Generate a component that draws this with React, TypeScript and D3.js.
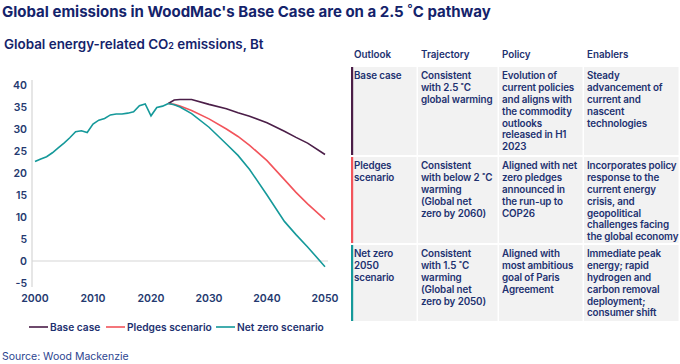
import React from 'react'
import * as d3 from 'd3'

const histYears = [2000, 2001, 2002, 2003, 2004, 2005, 2006, 2007, 2008, 2009, 2010, 2011, 2012, 2013, 2014, 2015, 2016, 2017, 2018, 2019, 2020, 2021, 2022, 2023]
const histValues = [22.6, 23.2, 23.7, 24.6, 25.7, 26.8, 28.0, 29.4, 29.6, 29.2, 31.1, 32.0, 32.4, 33.2, 33.4, 33.4, 33.6, 33.9, 35.3, 35.7, 33.0, 34.9, 35.2, 35.8]

const projYears = [2023, 2024, 2025, 2027, 2030, 2033, 2035, 2037, 2040, 2043, 2045, 2047, 2050]
const baseCase = [35.8, 36.6, 36.7, 36.7, 35.6, 34.6, 33.7, 32.9, 31.4, 29.5, 28.1, 26.8, 24.2]
const pledges = [35.8, 35.6, 35.2, 34.2, 32.3, 30.0, 28.3, 26.3, 22.8, 18.5, 15.6, 13.0, 9.4]
const netZero = [35.8, 35.5, 35.0, 33.5, 30.4, 26.6, 24.0, 20.8, 15.0, 9.0, 6.0, 3.2, -1.3]

const yTicks = [-5, 0, 5, 10, 15, 20, 25, 30, 35, 40]
const xTicks = [2000, 2010, 2020, 2030, 2040, 2050]

const seriesNames = ['Base case', 'Pledges scenario', 'Net zero scenario']
const seriesColors = ['#4b1e48', '#f2545b', '#15999a']

const tableHeaders = ['Outlook', 'Trajectory', 'Policy', 'Enablers']
const tableRows = [
  [['Base case'], ['Consistent', 'with 2.5 ˚C', 'global warming'], ['Evolution of', 'current policies', 'and aligns with', 'the commodity', 'outlooks', 'released in H1', '2023'], ['Steady', 'advancement of', 'current and', 'nascent', 'technologies']],
  [['Pledges', 'scenario'], ['Consistent', 'with below 2 ˚C', 'warming', '(Global net', 'zero by 2060)'], ['Aligned with net', 'zero pledges', 'announced in', 'the run-up to', 'COP26'], ['Incorporates policy', 'response to the', 'current energy', 'crisis, and', 'geopolitical', 'challenges facing', 'the global economy']],
  [['Net zero', '2050', 'scenario'], ['Consistent', 'with 1.5 ˚C', 'warming', '(Global net', 'zero by 2050)'], ['Aligned with', 'most ambitious', 'goal of Paris', 'Agreement'], ['Immediate peak', 'energy; rapid', 'hydrogen and', 'carbon removal', 'deployment;', 'consumer shift']],
]

const navy = '#14236b'
const textBlue = '#1d3170'
const font = 'Inter, "Noto Sans", sans-serif'

export default function App() {
  const x = d3.scaleLinear().domain([2000, 2050]).range([35, 325])
  const y = d3.scaleLinear().domain([-5, 40]).range([283, 85])
  const line = d3.line<number>()

  const histPts = histYears.map((yr, i) => [x(yr), y(histValues[i])] as [number, number])
  const proj = [baseCase, pledges, netZero].map(vals =>
    projYears.map((yr, i) => [x(yr), y(vals[i])] as [number, number]))

  // table geometry
  const colX = [351, 418, 499, 584, 680]
  const rowY = [67, 157, 245, 323]
  const lineH = 11.8

  return (
    <svg width={680} height={364} style={{ position: 'absolute', left: 0, top: 0, background: '#fff' }} fontFamily={font}>
      <text x={2} y={17} fontSize={15} fontWeight={700} fill={navy}>Global emissions in WoodMac's Base Case are on a 2.5 ˚C pathway</text>
      <text x={4} y={49} fontSize={13.4} fontWeight={600} fill={navy}>
        Global energy-related CO<tspan fontSize={9}>2</tspan> emissions, Bt
      </text>

      {/* axes */}
      <line x1={32} x2={32} y1={80} y2={287} stroke="#d6d6d6" strokeWidth={1.2} />
      <line x1={32} x2={328} y1={y(0)} y2={y(0)} stroke="#d6d6d6" strokeWidth={1.2} />
      {yTicks.map(t => (
        <text key={t} x={27} y={y(t)} dy="0.35em" textAnchor="end" fontSize={10.5} fontWeight={600} fill="#24396f">{t}</text>
      ))}
      {xTicks.map(t => (
        <text key={t} x={x(t)} y={298} dy="0.35em" textAnchor="middle" fontSize={10.5} fontWeight={600} fill="#24396f">{t}</text>
      ))}

      {/* lines */}
      <path d={line(proj[0]) ?? ''} fill="none" stroke={seriesColors[0]} strokeWidth={1.6} />
      <path d={line(proj[1]) ?? ''} fill="none" stroke={seriesColors[1]} strokeWidth={1.6} />
      <path d={line(proj[2]) ?? ''} fill="none" stroke={seriesColors[2]} strokeWidth={1.6} />
      <path d={line(histPts) ?? ''} fill="none" stroke={seriesColors[2]} strokeWidth={1.6} />

      {/* legend */}
      {seriesNames.map((n, i) => {
        const lx = [29, 106, 216][i]
        return (
          <g key={n}>
            <line x1={lx} x2={lx + 19} y1={327} y2={327} stroke={seriesColors[i]} strokeWidth={2} opacity={0.8} />
            <text x={lx + 21} y={327} dy="0.35em" fontSize={10.2} fontWeight={600} fill={textBlue}>{n}</text>
          </g>
        )
      })}

      <text x={2} y={356} dy="0.35em" fontSize={10.5} fill="#2c4590">Source: Wood Mackenzie</text>

      {/* table */}
      {tableHeaders.map((h, i) => (
        <text key={h} x={colX[i] + 3} y={55} dy="0.35em" fontSize={9.8} fontWeight={600} fill={textBlue}>{h}</text>
      ))}
      {tableRows.map((row, r) => (
        <g key={r}>
          {row.map((cell, c) => (
            <g key={c}>
              <rect x={colX[c]} y={rowY[r]} width={colX[c + 1] - colX[c] - 1.5} height={rowY[r + 1] - rowY[r] - 2} fill="#f2f2f2" />
              {cell.map((t, k) => (
                <text key={k} x={colX[c] + 3} y={rowY[r] + 9 + k * lineH} dy="0.35em" fontSize={9.8} letterSpacing={-0.1} fontWeight={600} fill={textBlue}>{t}</text>
              ))}
            </g>
          ))}
          <rect x={colX[0]} y={rowY[r]} width={2.2} height={rowY[r + 1] - rowY[r] - 2} fill={seriesColors[r]} />
        </g>
      ))}
    </svg>
  )
}
